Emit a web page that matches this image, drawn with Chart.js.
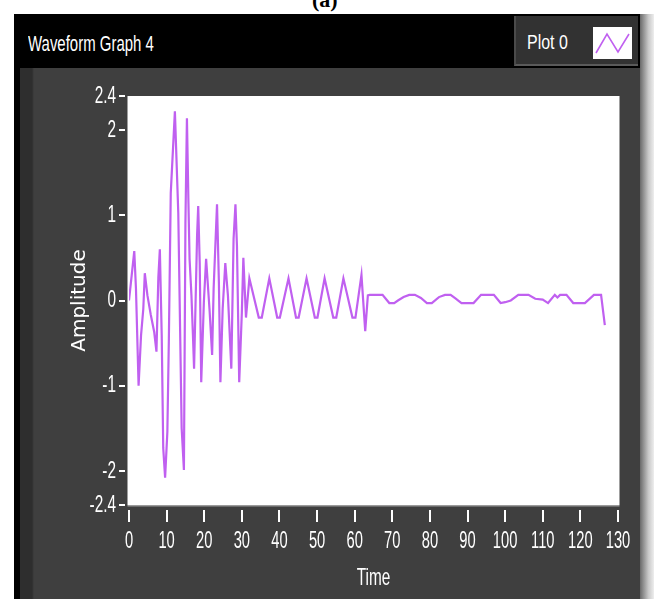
<!DOCTYPE html>
<html>
<head>
<meta charset="utf-8">
<script src="https://cdn.jsdelivr.net/npm/chart.js@4/dist/chart.umd.min.js"></script>
<style>
  html, body { margin: 0; padding: 0; background: #fff; width: 654px; height: 599px; overflow: hidden; }
  #cap { position: absolute; left: 312px; top: -13px; font: bold 22px 'Liberation Serif', serif; color: #000; }
  #frame { position: absolute; left: 14px; top: 14px; width: 626px; height: 585px; background: #000; }
  #panel { position: absolute; left: 20px; top: 68px; width: 620px; height: 531px;
           background: linear-gradient(to right, #2e2e2e 0px, #2e2e2e 12px, #3f3f3f 14px, #3f3f3f 100%); }
  #shadow { position: absolute; left: 640px; top: 14px; width: 14px; height: 585px;
            background: linear-gradient(to right, #6a6a6a, #c8c8c8 60%, #eeeeee); }
  .cond { position: absolute; color: #fff; font-family: 'Liberation Sans', Arial, sans-serif; white-space: nowrap;
          transform-origin: 0 0; }
  #title { left: 28px; top: 31px; font-size: 22px; transform: scaleX(0.68); }
  #legend { position: absolute; left: 514px; top: 16px; width: 124px; height: 50px; background: #323232;
            border-left: 2px solid #4a4a4a; border-bottom: 2px solid #5a5a5a; box-sizing: border-box; }
  #legtext { left: 527px; top: 30px; font-size: 21px; transform: scaleX(0.76); }
  #swatch { position: absolute; left: 593px; top: 27px; width: 39px; height: 32px; background: #fff; }
  #c { position: absolute; left: 0; top: 0; }
</style>
</head>
<body>
<div id="cap">(a)</div>
<div id="frame"></div>
<div id="panel"></div>
<div id="shadow"></div>
<div id="title" class="cond">Waveform Graph 4</div>
<div id="legend"></div>
<div id="legtext" class="cond">Plot 0</div>
<div id="swatch"><svg width="39" height="32"><polyline points="3,26 14,7 25,25 36,7" fill="none" stroke="#c060f0" stroke-width="1.6"/></svg></div>
<canvas id="c" width="654" height="599"></canvas>
<script>
// ---- data ----
const times = [
  0, 0.7, 1.4, 1.85, 2.55, 3.2, 3.8, 4.2, 4.9, 5.8, 6.7, 7.3, 7.8, 8.2, 8.7, 9.1, 9.6, 10.2, 10.6, 11.1,
  12.2, 13.1, 14.0, 14.6, 15.0, 15.4, 15.8, 16.1, 16.6, 17.0, 17.3, 18.1, 18.4, 18.8, 19.2, 19.9, 20.5,
  21.4, 22.1, 22.5, 23.4, 23.9, 24.3, 24.9, 25.6, 26.3, 27.2, 27.8, 28.3, 28.7, 29.3, 30.0, 30.4, 31.1,
  32.0, 34.5, 35.3, 37.3, 39.4, 40.1, 42.4, 44.4, 45.1, 47.2, 49.4, 50.1, 52.0, 54.3, 55.1, 57.0, 59.4,
  60.2, 61.8, 62.8, 63.5,
  64.0, 67.4, 69.2, 70.5, 71.5, 73.0, 74.5, 76.0, 77.6, 79.2, 80.5, 82.4, 84.0, 85.5, 86.6, 88.4, 91.6,
  93.6, 97.0, 98.8, 100.0, 101.5, 103.5, 106.2, 108.0, 110.0, 111.4, 113.2, 113.9, 114.6, 116.3, 118.1,
  121.2, 123.6, 125.5, 126.5
];
const amplitudes = [
  0.0, 0.29, 0.58, 0.14, -1.0, -0.41, -0.1, 0.32, 0.06, -0.17, -0.37, -0.6, 0.27, 0.6, -0.41, -1.73, -2.08, -1.54, -0.45, 1.26,
  2.22, 1.03, -1.5, -1.99, 0.9, 2.14, 1.15, 0.49, 0.06, -0.41, -0.8, 0.76, 1.11, 0.44, -0.96, -0.02, 0.49,
  -0.1, -0.64, 0.14, 1.13, 0.21, -0.96, -0.1, 0.44, 0.06, -0.8, 0.72, 1.13, 0.64, -0.96, -0.14, 0.5, -0.2,
  0.26, -0.2, -0.2, 0.26, -0.2, -0.2, 0.26, -0.2, -0.2, 0.26, -0.2, -0.2, 0.26, -0.2, -0.2, 0.26, -0.2,
  -0.2, 0.3, -0.36, 0.06,
  0.066, 0.066, -0.03, -0.03, 0.0, 0.04, 0.066, 0.066, 0.03, -0.03, -0.03, 0.04, 0.066, 0.066, 0.03, -0.03, -0.03,
  0.066, 0.066, -0.03, -0.02, 0.0, 0.066, 0.066, 0.02, 0.01, -0.03, 0.066, 0.035, 0.066, 0.066, -0.03,
  -0.03, 0.066, 0.066, -0.29
];
const yTickValues = [-2.4, -2, -1, 0, 1, 2, 2.4];
const xTickMin = 0, xTickMax = 130, xTickStep = 10;
const seriesName = 'Plot 0';

const points = times.map((t, i) => ({ x: t, y: amplitudes[i] }));
const narrow = "'Liberation Sans', Arial, sans-serif";
const CONDENSE = 0.64;

// condensed rendering for the narrow LabVIEW-style labels
const condensedText = {
  id: 'condensedText',
  beforeInit(chart) {
    const ctx = chart.ctx;
    if (ctx.__wrapped) return;
    const orig = ctx.fillText;
    ctx.fillText = function (text, x, y, maxWidth) {
      if (this.font.indexOf('Liberation Sans') >= 0) {
        this.save();
        this.translate(x, y);
        this.scale(CONDENSE, 1);
        if (maxWidth !== undefined) orig.call(this, text, 0, 0, maxWidth / CONDENSE);
        else orig.call(this, text, 0, 0);
        this.restore();
      } else {
        if (maxWidth !== undefined) orig.call(this, text, x, y, maxWidth);
        else orig.call(this, text, x, y);
      }
    };
    ctx.__wrapped = true;
  }
};

const frameTicks = {
  id: 'frameTicks',
  beforeDraw(chart) {
    const a = chart.chartArea, ctx = chart.ctx;
    ctx.save();
    ctx.fillStyle = '#ffffff';
    ctx.fillRect(a.left - 1.5, a.top, a.right - a.left + 3, a.bottom - a.top);
    ctx.fillStyle = '#9a9a9a';
    ctx.fillRect(a.left - 1.5, a.bottom, a.right - a.left + 3, 1.5);
    ctx.restore();
  },
  afterDraw(chart) {
    const a = chart.chartArea, ctx = chart.ctx;
    const xs = chart.scales.x, ys = chart.scales.y;
    ctx.save();
    ctx.strokeStyle = '#ffffff';
    ctx.lineWidth = 2;
    ys.ticks.forEach(t => {
      const y = Math.round(ys.getPixelForValue(t.value));
      ctx.beginPath(); ctx.moveTo(a.left - 10, y); ctx.lineTo(a.left - 4, y); ctx.stroke();
    });
    xs.ticks.forEach(t => {
      const x = Math.round(xs.getPixelForValue(t.value));
      ctx.beginPath(); ctx.moveTo(x, a.bottom + 5); ctx.lineTo(x, a.bottom + 17); ctx.stroke();
    });
    ctx.restore();
  }
};

new Chart(document.getElementById('c'), {
  type: 'line',
  data: {
    datasets: [{
      label: seriesName,
      data: points,
      borderColor: '#c060f0',
      borderWidth: 2.2,
      pointRadius: 0,
      tension: 0,
      fill: false
    }]
  },
  options: {
    responsive: false,
    animation: false,
    devicePixelRatio: 1,
    layout: { padding: { top: 96, right: 36, left: 0, bottom: 0 } },
    plugins: { legend: { display: false }, title: { display: false }, tooltip: { enabled: false } },
    scales: {
      x: {
        type: 'linear',
        min: xTickMin, max: xTickMax,
        grid: { display: false },
        border: { display: false },
        ticks: { stepSize: xTickStep, color: '#ffffff', font: { family: narrow, size: 23 }, padding: 15, maxRotation: 0, autoSkip: false },
        title: { display: true, text: 'Time', color: '#ffffff', font: { family: narrow, size: 24 }, padding: { top: 0, bottom: 6 } },
        afterFit(s) { s.height = 94; }
      },
      y: {
        min: -2.4, max: 2.4,
        grid: { display: false },
        border: { display: false },
        afterBuildTicks(s) { s.ticks = yTickValues.map(v => ({ value: v })); },
        ticks: { color: '#ffffff', font: { family: narrow, size: 24 }, padding: 5, callback: v => String(v) },
        title: { display: true, text: 'Amplitude', color: '#ffffff', font: { family: "'DejaVu Sans', sans-serif", size: 20 }, padding: { top: 68, bottom: 0 } },
        afterFit(s) { s.width = 129; }
      }
    }
  },
  plugins: [condensedText, frameTicks]
});
</script>
</body>
</html>
